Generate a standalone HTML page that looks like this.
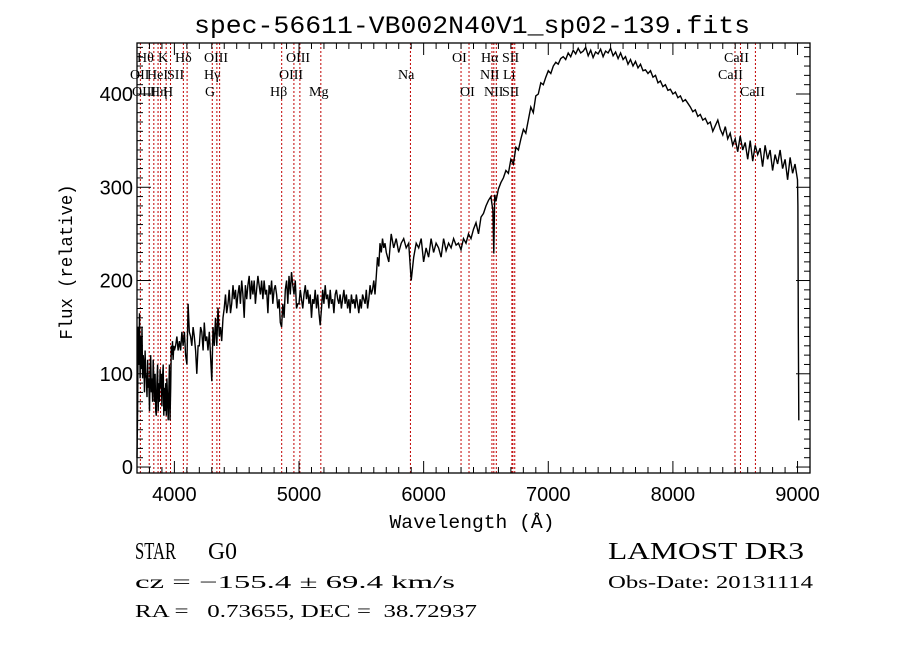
<!DOCTYPE html>
<html><head><meta charset="utf-8"><style>
html,body{margin:0;padding:0;background:#fff;}
svg{display:block;}
text{white-space:pre;}
</style></head><body>
<svg id="chart" width="900" height="649" viewBox="0 0 900 649" xmlns="http://www.w3.org/2000/svg" xml:space="preserve">
<rect width="900" height="649" fill="#fff"/>
<text x="472" y="33" text-anchor="middle" font-family="Liberation Mono, monospace" font-size="25" textLength="556" lengthAdjust="spacingAndGlyphs">spec-56611-VB002N40V1_sp02-139.fits</text>
<g id="lines"></g>
<g id="linelabels"></g>
<path id="spec" fill="none" stroke="#000" stroke-width="1.4"/>
<g id="axes"></g>
<text x="472" y="528" text-anchor="middle" font-family="Liberation Mono, monospace" font-size="19" textLength="165" lengthAdjust="spacingAndGlyphs">Wavelength (Å)</text>
<text transform="translate(72,262) rotate(-90)" text-anchor="middle" font-family="Liberation Mono, monospace" font-size="18" textLength="155" lengthAdjust="spacingAndGlyphs">Flux (relative)</text>
<g font-family="Liberation Serif, serif">
<text x="135" y="559" font-size="24" textLength="41" lengthAdjust="spacingAndGlyphs">STAR</text>
<text x="208" y="559" font-size="24" textLength="29" lengthAdjust="spacingAndGlyphs">G0</text>
<text x="608" y="559" font-size="24" textLength="196" lengthAdjust="spacingAndGlyphs">LAMOST DR3</text>
<text x="135" y="588" font-size="18" textLength="320" lengthAdjust="spacingAndGlyphs">cz = −155.4 ± 69.4 km/s</text>
<text x="608" y="588" font-size="18" textLength="205" lengthAdjust="spacingAndGlyphs">Obs-Date: 20131114</text>
<text x="135" y="617" font-size="18" textLength="342" lengthAdjust="spacingAndGlyphs">RA =   0.73655, DEC =  38.72937</text>
</g>
</svg>
<script>
const waves=[
3700,3705,3710,3715,3720,3725,3730,3735,3740,3745,
3750,3755,3760,3765,3770,3775,3780,3785,3790,3795,
3800,3805,3810,3815,3820,3825,3830,3835,3840,3845,
3850,3855,3860,3865,3870,3875,3880,3885,3890,3895,
3900,3905,3910,3915,3920,3925,3930,3935,3940,3945,
3950,3955,3960,3965,3970,3975,3980,3985,3990,3995,
4000,4010,4020,4030,4040,4050,4060,4070,4080,4090,
4100,4110,4120,4130,4140,4150,4160,4170,4180,4190,
4200,4210,4220,4230,4240,4250,4260,4270,4280,4290,
4300,4310,4320,4330,4340,4350,4360,4370,4380,4390,
4400,4410,4420,4430,4440,4450,4460,4470,4480,4490,
4500,4510,4520,4530,4540,4550,4560,4570,4580,4590,
4600,4610,4620,4630,4640,4650,4660,4670,4680,4690,
4700,4710,4720,4730,4740,4750,4760,4770,4780,4790,
4800,4810,4820,4830,4840,4850,4860,4870,4880,4890,
4900,4910,4920,4930,4940,4950,4960,4970,4980,4990,
5000,5010,5020,5030,5040,5050,5060,5070,5080,5090,
5100,5110,5120,5130,5140,5150,5160,5170,5180,5190,
5200,5210,5220,5230,5240,5250,5260,5270,5280,5290,
5300,5310,5320,5330,5340,5350,5360,5370,5380,5390,
5400,5410,5420,5430,5440,5450,5460,5470,5480,5490,
5500,5510,5520,5530,5540,5550,5560,5570,5580,5590,
5600,5610,5620,5630,5640,5650,5660,5670,5680,5690,
5700,5720,5740,5760,5780,
5800,5820,5840,5860,5880,
5900,5920,5940,5960,5980,
6000,6020,6040,6060,6080,
6100,6120,6140,6160,6180,
6200,6220,6240,6260,6280,
6300,6320,6340,6360,6380,
6400,6420,6440,6460,6480,
6500,6520,6540,6556,6563,6570,
6580,6600,6620,6640,6660,
6680,6700,6720,6740,6760,
6780,6800,6820,6840,6860,
6880,6900,6920,6940,6960,6980,
7000,7020,7040,7060,7080,7100,7120,7140,7160,7180,
7200,7220,7240,7260,7280,7300,7320,7340,7360,7380,
7400,7420,7440,7460,7480,7500,7520,7540,7560,7580,
7600,7620,7640,7660,7680,7700,7720,7740,7760,7780,
7800,7820,7840,7860,7880,7900,7920,7940,7960,7980,
8000,8020,8040,8060,8080,8100,8120,8140,8160,8180,
8200,8220,8240,8260,8280,8300,8320,8340,8360,8380,
8400,8420,8440,8460,8480,8500,8520,8540,8560,8580,
8600,8620,8640,8660,8680,8700,8720,8740,8760,8780,
8800,8820,8840,8860,8880,8900,8920,8940,8960,8980,
9000,9003,9006,9010];
const fluxes=[
10,60,150,110,165,95,140,105,150,95,
120,110,80,125,100,95,75,115,85,95,
60,105,120,80,95,70,115,95,70,100,
60,55,90,110,60,90,70,105,85,100,
65,95,110,55,85,60,90,55,95,75,
50,80,110,50,85,130,120,135,115,130,
125,130,140,125,135,125,145,130,145,120,
110,175,145,140,130,150,140,125,100,130,
130,150,145,125,155,135,140,125,145,120,
92,150,130,160,130,171,140,150,135,160,
170,185,165,175,190,165,175,195,180,190,
170,185,195,175,200,185,160,195,180,195,
205,180,200,185,200,175,190,205,195,185,
200,180,200,185,190,165,195,185,200,175,
190,195,185,170,180,155,150,175,160,190,
200,175,205,185,209,195,185,200,170,175,
175,190,180,170,185,195,180,190,175,185,
160,180,175,190,170,185,165,152,170,190,
175,195,180,185,170,190,175,180,165,185,
190,180,175,185,170,180,190,175,185,170,
180,165,185,175,180,170,185,175,165,180,
170,185,180,175,190,170,180,195,185,190,
200,185,205,225,215,240,230,245,235,240,
230,220,250,235,245,
230,240,245,235,240,
200,225,240,235,245,
220,235,225,245,230,
240,235,225,245,232,
240,235,245,238,240,
233,245,240,250,245,
255,262,250,268,272,
280,286,290,275,229,292,
285,298,305,310,318,
315,330,325,343,340,
352,362,358,372,386,
380,398,400,412,410,418,
425,422,430,434,432,438,440,437,444,440,
447,443,449,444,446,450,441,447,439,445,
443,448,440,446,444,449,441,445,438,444,
437,440,432,437,430,435,428,432,425,426,
422,425,418,420,412,414,408,410,404,405,
400,402,396,398,392,394,390,386,381,383,
376,378,372,374,368,370,360,366,372,362,
356,365,352,358,345,352,338,355,340,348,
330,350,328,345,335,342,322,345,330,340,
318,335,325,340,320,330,308,332,315,325,
308,280,150,50];
const X0=3700,X1=9100,Y0=-6.4,Y1=454.7,L=137,R=810,T=43,B=473;
function xs(w){return L+(w-X0)/(X1-X0)*(R-L);}
function ys(v){return B-(v-Y0)/(Y1-Y0)*(B-T);}
const NS='http://www.w3.org/2000/svg';
let d='';
const n=Math.min(waves.length,fluxes.length);
for(let i=0;i<n;i++){d+=(i?'L':'M')+xs(waves[i]).toFixed(1)+' '+ys(fluxes[i]).toFixed(1);}
document.getElementById('spec').setAttribute('d',d);

const lineWaves=[3727,3798,3835,3869,3889,3934,3969,4072,4102,4304,4341,4363,4861,4959,5007,5175,5894,6300,6364,6548,6563,6583,6708,6716,6731,8498,8542,8662];
const lg=document.getElementById('lines');
lineWaves.forEach(w=>{const l=document.createElementNS(NS,'line');
l.setAttribute('x1',xs(w));l.setAttribute('x2',xs(w));l.setAttribute('y1',T);l.setAttribute('y2',B);
l.setAttribute('stroke','#c00000');l.setAttribute('stroke-width','1');l.setAttribute('stroke-dasharray','2,2');


lg.appendChild(l);});

const labelTexts=['Hθ','K','Hδ','OIII','OIII','OI','Hα','SII','CaII','OII','HeI','SII','Hγ','OIII','Na','NII','Li','CaII','OIII','Hη','H','G','Hβ','Mg','OI','NII','SII','CaII'];
const labelRows=[0,0,0,0,0,0,0,0,0,1,1,1,1,1,1,1,1,1,2,2,2,2,2,2,2,2,2,2];
const labelX=[137,158,175,204,286,452,481,502,724,130,147,167,204,279,398,480,503,718,132,150,163,205,270,309,460,484,502,740];
const llg=document.getElementById('linelabels');
labelTexts.forEach((t,i)=>{const e=document.createElementNS(NS,'text');
e.setAttribute('x',labelX[i]);e.setAttribute('y',62+labelRows[i]*17);
e.setAttribute('font-family','Liberation Serif, serif');e.setAttribute('font-size','14');
e.textContent=t;


llg.appendChild(e);});

const xTicks=[4000,5000,6000,7000,8000,9000];
const yTicks=[0,100,200,300,400];
const ax=document.getElementById('axes');
function ln(x1,y1,x2,y2,w){const l=document.createElementNS(NS,'line');l.setAttribute('x1',x1);l.setAttribute('y1',y1);l.setAttribute('x2',x2);l.setAttribute('y2',y2);l.setAttribute('stroke','#000');l.setAttribute('stroke-width',w||1);ax.appendChild(l);return l;}
const fr=document.createElementNS(NS,'rect');
fr.setAttribute('x',L);fr.setAttribute('y',T);fr.setAttribute('width',R-L);fr.setAttribute('height',B-T);
fr.setAttribute('fill','none');fr.setAttribute('stroke','#000');fr.setAttribute('stroke-width','1.3');


ax.appendChild(fr);
for(let w=3700;w<=9100;w+=100){const x=xs(w);const maj=w%1000===0;const len=maj?12:6;ln(x,B,x,B-len);ln(x,T,x,T+len);}
for(let v=0;v<=450;v+=10){const y=ys(v);const maj=v%100===0;const len=maj?14:6;ln(L,y,L+len,y);ln(R,y,R-len,y);}
xTicks.forEach(w=>{const t=document.createElementNS(NS,'text');t.setAttribute('x',xs(w));t.setAttribute('y',B+28);t.setAttribute('text-anchor','middle');t.setAttribute('font-family','Liberation Sans, sans-serif');t.setAttribute('font-size','20');t.textContent=w;


ax.appendChild(t);});
yTicks.forEach(v=>{const t=document.createElementNS(NS,'text');t.setAttribute('x',L-4);t.setAttribute('y',ys(v)+7);t.setAttribute('text-anchor','end');t.setAttribute('font-family','Liberation Sans, sans-serif');t.setAttribute('font-size','20');t.textContent=v;


ax.appendChild(t);});
</script>
</body></html>
